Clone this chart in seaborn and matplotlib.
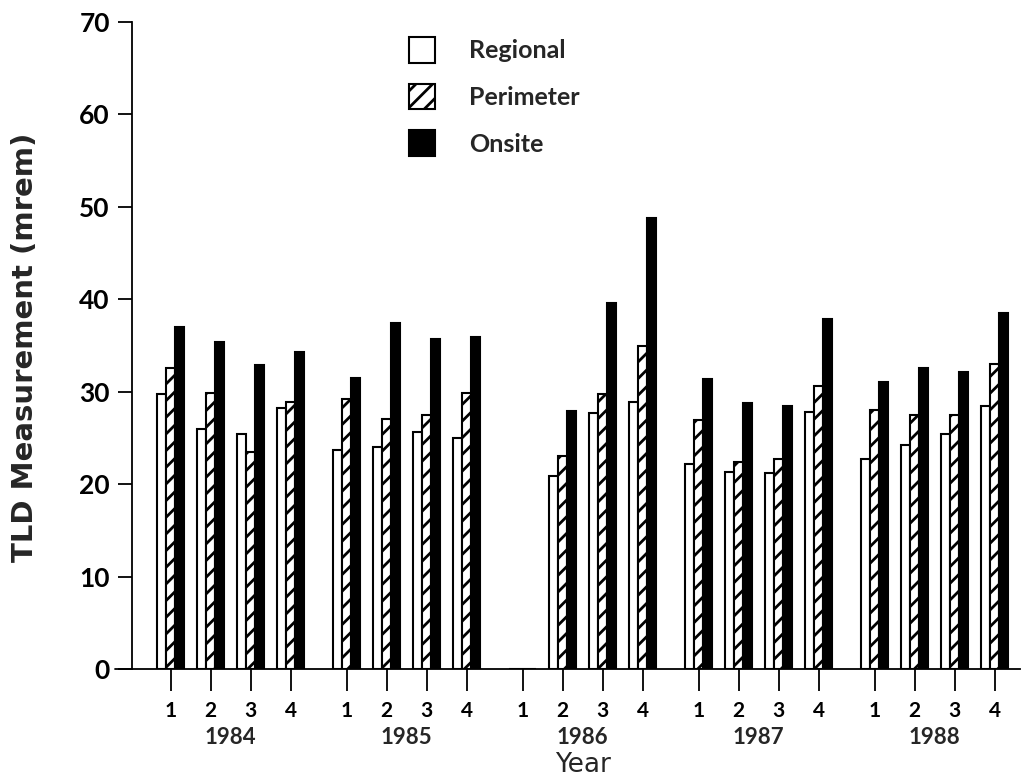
import numpy as np
import pandas as pd
import matplotlib
matplotlib.use("Agg")
import matplotlib.pyplot as plt
import seaborn as sns
from matplotlib.patches import Patch
from matplotlib.transforms import blended_transform_factory

# ---- data ----
years = ["1984", "1985", "1986", "1987", "1988"]
quarters = ["1", "2", "3", "4"]
series = ["Regional", "Perimeter", "Onsite"]
regional = [29.8, 26.0, 25.4, 28.2,
            23.7, 24.0, 25.6, 25.0,
            0.0, 20.9, 27.7, 28.9,
            22.2, 21.3, 21.2, 27.8,
            22.7, 24.2, 25.4, 28.5]
perimeter = [32.6, 29.9, 23.5, 28.9,
             29.2, 27.1, 27.5, 29.9,
             0.0, 23.0, 29.7, 34.9,
             26.9, 22.4, 22.7, 30.6,
             28.0, 27.5, 27.5, 33.0]
onsite = [37.0, 35.4, 32.9, 34.3,
          31.5, 37.4, 35.7, 35.9,
          0.0, 27.9, 39.6, 48.8,
          31.4, 28.8, 28.5, 37.9,
          31.1, 32.6, 32.1, 38.5]
y_ticks = [0, 10, 20, 30, 40, 50, 60, 70]

YEAR_STEP = 4.4  # quarters per year slot (incl. gap)

rows = []
positions = []
for yi, yr in enumerate(years):
    for qi, q in enumerate(quarters):
        pos = yi * YEAR_STEP + qi
        positions.append(pos)
        k = yi * 4 + qi
        for s, vals in zip(series, [regional, perimeter, onsite]):
            rows.append({"pos": pos, "value": vals[k], "series": s})
df = pd.DataFrame(rows)

sns.set_style("ticks")
plt.rcParams["font.family"] = ["Lato", "DejaVu Sans"]
plt.rcParams["hatch.linewidth"] = 2.0
plt.rcParams["hatch.color"] = "black"

W, H = 1024, 784
fig = plt.figure(figsize=(W / 100, H / 100), dpi=100)
ax_l, ax_r, ax_t, ax_b = 132, 1020, 22, 669
ax = fig.add_axes([ax_l / W, (H - ax_b) / H, (ax_r - ax_l) / W, (ax_b - ax_t) / H])

sns.barplot(data=df, x="pos", y="value", hue="series", hue_order=series,
            palette=["white", "white", "black"], native_scale=True,
            width=0.68, edgecolor="black", linewidth=1.5, saturation=1,
            errorbar=None, legend=False, dodge=True, ax=ax)

# hatch the Perimeter bars
for bar in ax.containers[1]:
    bar.set_hatch("//")

px = 40.0
ax.set_xlim((ax_l - 170.7) / px, (ax_r - 170.7) / px)
ax.set_ylim(0, 70)
ax.set_yticks(y_ticks)
ax.set_yticklabels([str(t) for t in y_ticks], fontsize=19, fontweight="bold")
ax.set_xticks(positions)
ax.set_xticklabels(quarters * len(years), fontsize=15, fontweight="bold")
ax.tick_params(axis="x", direction="out", length=16, width=1.3, pad=7, colors="black")
ax.tick_params(axis="y", direction="out", length=10, width=1.3, pad=6, colors="black")
ax.set_xlabel("")
ax.set_ylabel("")
for sp in ["top", "right"]:
    ax.spines[sp].set_visible(False)
for sp in ["left", "bottom"]:
    ax.spines[sp].set_linewidth(1.3)
    ax.spines[sp].set_color("black")
# x-axis line extends slightly left of the y-axis
ax.plot([-(ax_l - 115) / (ax_r - ax_l), 0], [0, 0], transform=ax.transAxes,
        clip_on=False, color="black", lw=1.3)

# year labels
tr = blended_transform_factory(ax.transData, fig.transFigure)
for yi, yr in enumerate(years):
    ax.text(yi * YEAR_STEP + 1.5, 1 - 738 / H, yr, transform=tr, ha="center",
            va="center", fontsize=16, fontweight="bold")

fig.text(583 / W, 1 - 765 / H, "Year", ha="center", va="center", fontsize=19,
         family=["DejaVu Sans"])
fig.text(25 / W, 1 - 347 / H, "TLD Measurement (mrem)", ha="center", va="center",
         rotation=90, fontsize=21, fontweight="bold", family=["DejaVu Sans"])

handles = [Patch(facecolor="white", edgecolor="black", linewidth=1.5),
           Patch(facecolor="white", edgecolor="black", linewidth=1.5, hatch="//"),
           Patch(facecolor="black", edgecolor="black", linewidth=1.5)]
fig.legend(handles, series, loc="upper left", bbox_to_anchor=(409 / W, 1 - 37 / H),
           frameon=False, handlelength=1.05, handleheight=1.2,
           labelspacing=0.84, handletextpad=1.36, borderpad=0, borderaxespad=0,
           prop={"weight": "bold", "size": 18})

fig.savefig("out.png", dpi=100)
